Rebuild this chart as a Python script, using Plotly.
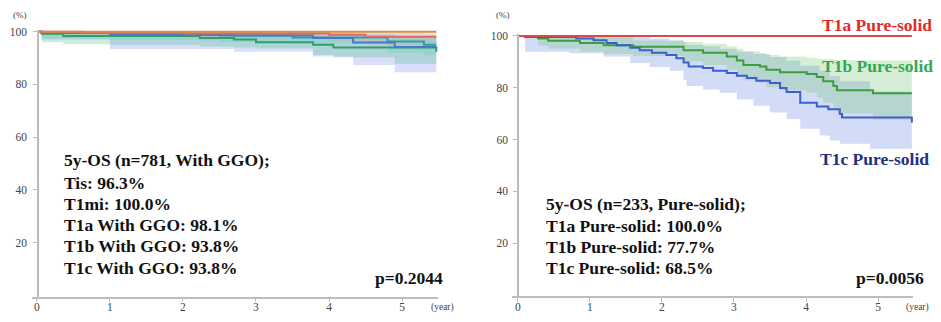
import plotly.graph_objects as go

W, H = 941, 322

# ---------------- Left panel data (With GGO) ----------------
L_t1mi_t = [0, 5.47]
L_t1mi_v = [100, 100]

L_t1a_t = [0, 0.6, 2.0, 4.0, 4.5, 5.47]
L_t1a_v = [100, 99.6, 99.3, 98.8, 98.1, 98.1]
L_t1a_lo = [100, 98.5, 97.8, 96.5, 95.0, 95.0]
L_t1a_hi = [100, 100, 100, 99.9, 99.7, 99.7]

L_tis_t = [0, 0.06, 1.0, 2.5, 3.5, 4.8, 5.3, 5.47]
L_tis_v = [100, 99.6, 99.0, 98.6, 97.8, 96.3, 95.0, 95.0]
L_tis_lo = [100, 97.5, 96.8, 96.2, 95.5, 92.0, 91.0, 91.0]
L_tis_hi = [100, 100, 100, 100, 99.8, 99.5, 99.0, 99.0]

L_t1c_t = [0, 0.06, 1.0, 2.7, 3.78, 4.33, 4.9, 5.47]
L_t1c_v = [100, 99.5, 98.7, 98.6, 97.6, 95.9, 94.2, 94.2]
L_t1c_lo = [100, 97.0, 93.4, 92.4, 90.6, 87.4, 84.6, 84.6]
L_t1c_hi = [100, 100, 100, 99.9, 99.6, 99.0, 98.2, 98.2]

L_t1b_t = [0, 0.07, 0.36, 1.0, 2.23, 2.7, 3.0, 3.78, 4.06, 4.9, 5.44, 5.47]
L_t1b_v = [100, 99.2, 98.4, 98.4, 97.6, 97.0, 96.0, 95.0, 94.0, 94.0, 94.0, 92.4]
L_t1b_lo = [100, 96.0, 95.2, 95.0, 94.4, 94.0, 93.6, 91.2, 90.2, 87.8, 87.8, 87.8]
L_t1b_hi = [100, 100, 100, 99.9, 99.6, 99.4, 99.2, 98.6, 98.2, 97.6, 97.6, 97.6]

# ---------------- Right panel data (Pure-solid) ----------------
R_t1a_t = [0, 5.47]
R_t1a_v = [100, 100]

R_t1b_t = [0, 0.28, 0.42, 0.86, 1.19, 1.60, 2.30, 2.57, 2.90, 3.04, 3.13,
           3.36, 3.45, 3.64, 4.01, 4.15, 4.24, 4.38, 4.43, 4.93, 5.47]
R_t1b_v = [100, 99.0, 98.1, 97.3, 96.4, 95.8, 94.5, 93.5, 92.0, 90.5, 88.8,
           88.2, 86.9, 86.0, 85.3, 84.1, 82.5, 80.6, 79.0, 77.8, 77.8]
R_t1b_hi = [100, 100, 100, 100, 99.5, 98.2, 97.6, 97.0, 96.0, 95.0, 94.0,
            93.4, 92.6, 92.0, 91.6, 91.2, 91.0, 90.8, 90.6, 90.5, 90.5]
R_t1b_lo = [100, 96.2, 95.0, 94.0, 93.0, 92.2, 90.2, 88.8, 86.8, 85.0, 82.8,
            82.0, 80.2, 79.0, 78.0, 76.2, 74.2, 72.0, 70.0, 67.5, 67.5]

R_t1c_t = [0, 0.10, 0.81, 1.05, 1.23, 1.37, 1.56, 1.69, 1.86, 2.06, 2.20, 2.30,
           2.37, 2.57, 2.71, 2.90, 3.04, 3.18, 3.31, 3.50, 3.64, 3.73, 3.92,
           4.15, 4.31, 4.47, 4.50, 5.44, 5.47]
R_t1c_v = [100, 99.6, 99.0, 98.3, 97.3, 96.4, 95.4, 94.5, 93.5, 92.6, 91.4, 89.7,
           88.2, 87.6, 86.5, 85.7, 84.6, 83.7, 82.7, 81.8, 79.9, 78.3, 74.2,
           72.7, 71.7, 69.8, 68.5, 68.5, 66.6]

R_t1c_ci_t = [0, 0.10, 0.72, 1.19, 1.56, 1.83, 2.11, 2.30, 2.34, 2.57, 2.80,
              3.04, 3.27, 3.50, 3.73, 3.92, 4.19, 4.33, 4.47, 4.89, 5.47]
R_t1c_lo = [100, 93.9, 93.3, 92.0, 89.5, 88.0, 86.5, 83.1, 80.6, 79.3, 78.0,
            75.5, 73.0, 70.4, 67.9, 64.1, 61.5, 59.6, 58.3, 56.4, 56.4]
R_t1c_hi = [100, 100, 100, 100, 99.5, 99.0, 98.2, 97.4, 96.6, 96.0, 95.0,
            94.0, 93.0, 91.8, 90.5, 88.5, 86.5, 84.5, 82.5, 78.5, 78.5]

X_TICKS = [0, 1, 2, 3, 4, 5]
Y_TICKS = [20, 40, 60, 80, 100]

L_TEXT = ["5y-OS (n=781, With GGO);", "Tis: 96.3%", "T1mi: 100.0%",
          "T1a With GGO: 98.1%", "T1b With GGO: 93.8%", "T1c With GGO: 93.8%"]
R_TEXT = ["5y-OS (n=233, Pure-solid);", "T1a Pure-solid: 100.0%",
          "T1b Pure-solid: 77.7%", "T1c Pure-solid: 68.5%"]
L_P = "p=0.2044"
R_P = "p=0.0056"

SERIF = "Liberation Serif, Times New Roman, DejaVu Serif, serif"

fig = go.Figure()


def band(t, lo, hi, color, xa, ya):
    fig.add_trace(go.Scatter(x=t, y=lo, mode="lines", line=dict(width=0, shape="hv"),
                             hoverinfo="skip", showlegend=False, xaxis=xa, yaxis=ya))
    fig.add_trace(go.Scatter(x=t, y=hi, mode="lines", line=dict(width=0, shape="hv"),
                             fill="tonexty", fillcolor=color, hoverinfo="skip",
                             showlegend=False, xaxis=xa, yaxis=ya))


def line(t, v, color, xa, ya, w=2):
    fig.add_trace(go.Scatter(x=t, y=v, mode="lines", line=dict(color=color, width=w, shape="hv"),
                             showlegend=False, xaxis=xa, yaxis=ya))


# Left bands
band(L_t1c_t, L_t1c_lo, L_t1c_hi, "rgba(120,140,230,0.28)", "x", "y")
band(L_t1b_t, L_t1b_lo, L_t1b_hi, "rgba(70,185,140,0.28)", "x", "y")
band(L_tis_t, L_tis_lo, L_tis_hi, "rgba(90,200,185,0.25)", "x", "y")
band(L_t1a_t, L_t1a_lo, L_t1a_hi, "rgba(240,150,150,0.22)", "x", "y")
# Left lines
line(L_tis_t, L_tis_v, "#2a9fa6", "x", "y")
line(L_t1b_t, L_t1b_v, "#2e9e6a", "x", "y")
line(L_t1c_t, L_t1c_v, "#4a78c8", "x", "y")
line(L_t1a_t, L_t1a_v, "#e06666", "x", "y")
line(L_t1mi_t, L_t1mi_v, "#d98c3f", "x", "y")

# Right bands
band(R_t1c_ci_t, R_t1c_lo, R_t1c_hi, "rgba(110,140,230,0.30)", "x2", "y2")
band(R_t1b_t, R_t1b_lo, R_t1b_hi, "rgba(120,200,120,0.30)", "x2", "y2")
# Right lines
line(R_t1b_t, R_t1b_v, "#3a9e3f", "x2", "y2")
line(R_t1c_t, R_t1c_v, "#3c5fcb", "x2", "y2")
line(R_t1a_t, R_t1a_v, "#e0474c", "x2", "y2")

axis_common = dict(showline=True, linecolor="#bdbdbd", linewidth=1.5, ticks="outside",
                   ticklen=4, tickcolor="#bdbdbd", showgrid=False, zeroline=False,
                   tickfont=dict(family=SERIF, size=11.5, color="#444"), fixedrange=True)


def px_x(p):
    return p / W


def px_y(p):
    return 1 - p / H


fig.update_layout(
    width=W, height=H, margin=dict(l=0, r=0, t=0, b=0),
    paper_bgcolor="white", plot_bgcolor="white", showlegend=False,
    xaxis=dict(domain=[px_x(32), px_x(438)], range=[-0.068, 5.493], anchor="y",
               tickvals=X_TICKS, ticklabelstandoff=-5, **axis_common),
    yaxis=dict(domain=[px_y(296.3), px_y(25.9)], range=[-0.5, 100.8], anchor="free",
               position=px_x(38), tickvals=Y_TICKS, ticklabelstandoff=4, **axis_common),
    xaxis2=dict(domain=[px_x(512), px_x(913)], range=[-0.083, 5.486], anchor="y2",
                tickvals=X_TICKS, ticklabelstandoff=-5, **axis_common),
    yaxis2=dict(domain=[px_y(295.8), px_y(30.2)], range=[-0.5, 100.8], anchor="free",
                position=px_x(518), tickvals=Y_TICKS, ticklabelstandoff=3, **axis_common),
)

ann = []


def text(s, x, y, xanchor="left", size=17.5, color="#111", bold=True):
    ann.append(dict(text=("<b>%s</b>" % s) if bold else s, x=px_x(x), y=px_y(y),
                    xref="paper", yref="paper", xanchor=xanchor, yanchor="middle",
                    showarrow=False, font=dict(family=SERIF, size=size, color=color)))


for s, y in zip(L_TEXT, [158, 181, 203, 224, 245.5, 267]):
    text(s, 62, y)
text(L_P, 445, 277, xanchor="right")

for s, y in zip(R_TEXT, [203, 224.5, 246, 267.5]):
    text(s, 544, y)
text(R_P, 926, 277, xanchor="right")

text("T1a Pure-solid", 934, 21, xanchor="right", color="#e02b2b")
text("T1b Pure-solid", 935, 63, xanchor="right", color="#33a852")
text("T1c Pure-solid", 931, 157, xanchor="right", color="#1e3080")

text("(%)", 19.5, 11.5, xanchor="center", size=9, color="#444", bold=False)
text("(%)", 503, 11, xanchor="center", size=9, color="#444", bold=False)
text("(year)", 442, 307.5, xanchor="center", size=9.5, color="#444", bold=False)
text("(year)", 917, 307.5, xanchor="center", size=9.5, color="#444", bold=False)

fig.update_layout(annotations=ann)

post = ("document.body.style.margin='0';document.body.style.padding='0';"
        "var gd=document.getElementById('{plot_id}');"
        "gd.style.position='absolute';gd.style.left='0px';gd.style.top='0px';")

fig.write_html("out.html", post_script=post, config={"displayModeBar": False})
